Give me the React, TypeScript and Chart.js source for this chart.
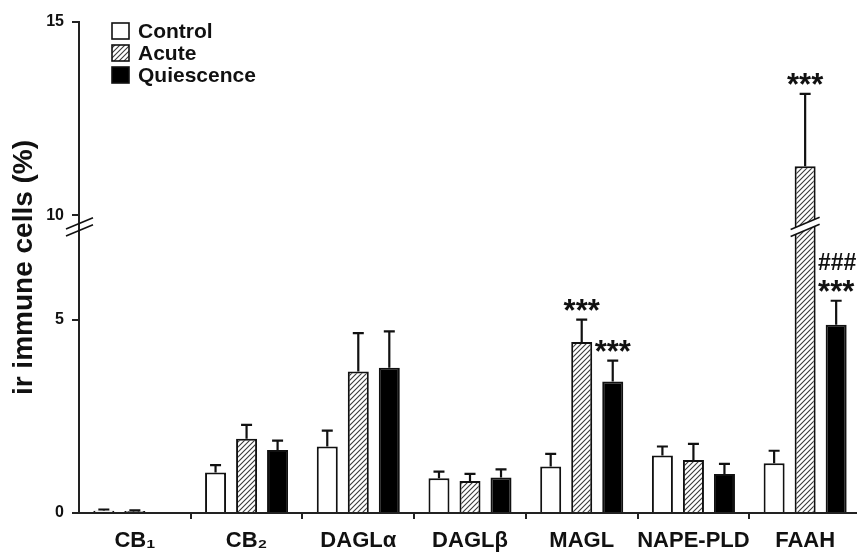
import React, { useEffect, useRef } from 'react';
import { Chart, registerables } from 'chart.js';

Chart.register(...registerables);

const categories = ['CB₁', 'CB₂', 'DAGLα', 'DAGLβ', 'MAGL', 'NAPE-PLD', 'FAAH'];
const seriesNames = ['Control', 'Acute', 'Quiescence'];
const controlMean = [0.06, 1.05, 1.72, 0.9, 1.2, 1.49, 1.29];
const controlSem = [0.03, 0.19, 0.41, 0.17, 0.33, 0.23, 0.32];
const acuteMean = [0.05, 1.92, 3.66, 0.83, 4.42, 1.37, 11.27];
const acuteSem = [0.02, 0.36, 0.99, 0.18, 0.58, 0.42, 1.87];
const quiescenceMean = [0, 1.63, 3.76, 0.92, 3.4, 1.01, 4.87];
const quiescenceSem = [0, 0.24, 0.94, 0.21, 0.54, 0.26, 0.62];
const yTickValues = [0, 5, 10, 15];
const yTitle = 'ir immune cells (%)';
const annotations = [
  { category: 'MAGL', series: 1, lines: ['***'] },
  { category: 'MAGL', series: 2, lines: ['***'] },
  { category: 'FAAH', series: 1, lines: ['***'] },
  { category: 'FAAH', series: 2, lines: ['###', '***'] },
];

// broken axis: values between BREAK_LOW and BREAK_HIGH are cut out
const BREAK_LOW = 7.4;
const BREAK_HIGH = 9.7;
const toAxis = (v: number) => (v <= BREAK_LOW ? v : v - (BREAK_HIGH - BREAK_LOW));

const FONT = "'Liberation Sans', Arial, sans-serif";
const INK = '#111';

function makeHatch(): CanvasPattern | string {
  const c = document.createElement('canvas');
  c.width = 5;
  c.height = 5;
  const g = c.getContext('2d');
  if (!g) return '#999';
  g.fillStyle = '#fff';
  g.fillRect(0, 0, 5, 5);
  g.strokeStyle = '#3a3a3a';
  g.lineWidth = 1.1;
  g.beginPath();
  g.moveTo(-1, 6);
  g.lineTo(6, -1);
  g.moveTo(-1, 1);
  g.lineTo(1, -1);
  g.moveTo(4, 6);
  g.lineTo(6, 4);
  g.stroke();
  return g.createPattern(c, 'repeat') || '#999';
}

const errorBarPlugin = {
  id: 'errorBars',
  afterDatasetsDraw(chart: any) {
    const ctx = chart.ctx;
    const y = chart.scales.y;
    ctx.save();
    ctx.strokeStyle = INK;
    ctx.lineWidth = 2.2;
    chart.data.datasets.forEach((ds: any, di: number) => {
      const meta = chart.getDatasetMeta(di);
      meta.data.forEach((bar: any, i: number) => {
        const sem = ds.sem[i];
        if (!sem) return;
        const top = y.getPixelForValue(toAxis(ds.raw[i] + sem));
        ctx.beginPath();
        ctx.moveTo(bar.x, bar.y);
        ctx.lineTo(bar.x, top);
        ctx.moveTo(bar.x - 5.5, top);
        ctx.lineTo(bar.x + 5.5, top);
        ctx.stroke();
      });
    });
    ctx.restore();
  },
};

const breakPlugin = {
  id: 'axisBreak',
  afterDatasetsDraw(chart: any) {
    const ctx = chart.ctx;
    const y = chart.scales.y;
    const yc = y.getPixelForValue(BREAK_LOW);
    const slope = 0.42;
    const gap = 3.5;
    const drawMarks = (xl: number, xr: number, fill: boolean) => {
      const w = xr - xl;
      const d = (slope * w) / 2;
      if (fill) {
        ctx.fillStyle = '#fff';
        ctx.beginPath();
        ctx.moveTo(xl, yc + gap + d);
        ctx.lineTo(xr, yc + gap - d);
        ctx.lineTo(xr, yc - gap - d);
        ctx.lineTo(xl, yc - gap + d);
        ctx.closePath();
        ctx.fill();
      }
      ctx.strokeStyle = INK;
      ctx.lineWidth = 1.6;
      ctx.beginPath();
      ctx.moveTo(xl, yc + gap + d);
      ctx.lineTo(xr, yc + gap - d);
      ctx.moveTo(xl, yc - gap + d);
      ctx.lineTo(xr, yc - gap - d);
      ctx.stroke();
    };
    ctx.save();
    const ax = chart.chartArea.left;
    drawMarks(ax - 13, ax + 14, false);
    chart.data.datasets.forEach((ds: any, di: number) => {
      const meta = chart.getDatasetMeta(di);
      meta.data.forEach((bar: any, i: number) => {
        if (ds.raw[i] > BREAK_HIGH) {
          const half = bar.width / 2;
          drawMarks(bar.x - half - 4, bar.x + half + 4, true);
        }
      });
    });
    ctx.restore();
  },
};

const annotationPlugin = {
  id: 'sigMarks',
  afterDatasetsDraw(chart: any) {
    const ctx = chart.ctx;
    const y = chart.scales.y;
    ctx.save();
    ctx.fillStyle = INK;
    ctx.textAlign = 'center';
    ctx.textBaseline = 'alphabetic';
    annotations.forEach((a) => {
      const ci = categories.indexOf(a.category);
      const ds: any = chart.data.datasets[a.series];
      const bar: any = chart.getDatasetMeta(a.series).data[ci];
      const top = y.getPixelForValue(toAxis(ds.raw[ci] + ds.sem[ci]));
      let base = top + 1;
      for (let k = a.lines.length - 1; k >= 0; k--) {
        const t = a.lines[k];
        if (t.startsWith('*')) {
          ctx.font = `bold 31px ${FONT}`;
          ctx.fillText(t, bar.x, base);
          base -= 32;
        } else {
          ctx.font = `bold 23px ${FONT}`;
          ctx.fillText(t, bar.x + 1, base);
          base -= 26;
        }
      }
    });
    ctx.restore();
  },
};

const legendPlugin = {
  id: 'insetLegend',
  afterDraw(chart: any) {
    const ctx = chart.ctx;
    ctx.save();
    chart.data.datasets.forEach((ds: any, i: number) => {
      const cy = 31 + i * 22;
      ctx.fillStyle = ds.backgroundColor;
      ctx.fillRect(112, cy - 8, 17, 16);
      ctx.strokeStyle = INK;
      ctx.lineWidth = 1.6;
      ctx.strokeRect(112, cy - 8, 17, 16);
      ctx.fillStyle = INK;
      ctx.font = `bold 21px ${FONT}`;
      ctx.textAlign = 'left';
      ctx.textBaseline = 'middle';
      ctx.fillText(ds.label, 138, cy + 1);
    });
    ctx.restore();
  },
};

export default function App() {
  const ref = useRef<HTMLCanvasElement | null>(null);
  useEffect(() => {
    if (!ref.current) return;
    const hatch = makeHatch();
    const common = {
      borderColor: INK,
      borderWidth: 2,
      categoryPercentage: 0.833,
      barPercentage: 0.677,
    };
    const chart = new Chart(ref.current, {
      type: 'bar',
      data: {
        labels: categories,
        datasets: [
          { ...common, label: seriesNames[0], data: controlMean.map(toAxis), raw: controlMean, sem: controlSem, backgroundColor: '#fff' } as any,
          { ...common, label: seriesNames[1], data: acuteMean.map(toAxis), raw: acuteMean, sem: acuteSem, backgroundColor: hatch } as any,
          { ...common, label: seriesNames[2], data: quiescenceMean.map(toAxis), raw: quiescenceMean, sem: quiescenceSem, backgroundColor: '#000' } as any,
        ],
      },
      options: {
        animation: false,
        responsive: false,
        devicePixelRatio: 1,
        layout: { padding: { top: 22, right: 9, left: 0, bottom: 0 } },
        plugins: { legend: { display: false }, tooltip: { enabled: false } },
        scales: {
          x: {
            offset: true,
            grid: {
              offset: true,
              drawOnChartArea: false,
              drawTicks: true,
              tickLength: 6,
              lineWidth: 2,
              color: (c: any) => (c.index === 0 ? 'rgba(0,0,0,0)' : '#222'),
            },
            border: { color: '#222', width: 2 },
            ticks: {
              color: INK,
              font: { family: FONT, size: 22, weight: 'bold' },
              padding: 9,
              maxRotation: 0,
              autoSkip: false,
            },
            afterFit: (s: any) => {
              s.height = 39;
            },
          },
          y: {
            min: 0,
            max: toAxis(15),
            afterBuildTicks: (s: any) => {
              s.ticks = yTickValues.map((v) => ({ value: toAxis(v) }));
            },
            grid: {
              drawOnChartArea: false,
              drawTicks: true,
              tickLength: 7,
              lineWidth: 2,
              color: '#222',
            },
            border: { color: '#222', width: 2 },
            ticks: {
              color: INK,
              font: { family: FONT, size: 16, weight: 'bold' },
              padding: 8,
              callback: (_v: any, i: number) => String(yTickValues[i]),
            },
            title: {
              display: true,
              text: yTitle,
              color: INK,
              font: { family: FONT, size: 28, weight: 'bold' },
              padding: { top: 7, bottom: 0 },
            },
            afterFit: (s: any) => {
              s.width = 79;
            },
          },
        },
      } as any,
      plugins: [errorBarPlugin, breakPlugin, annotationPlugin, legendPlugin],
    });
    return () => chart.destroy();
  }, []);
  return (
    <div style={{ position: 'fixed', left: 0, top: 0, width: 857, height: 552, overflow: 'hidden', background: '#fff' }}>
      <canvas ref={ref} width={870} height={552} style={{ display: 'block', width: 870, height: 552 }} />
    </div>
  );
}
